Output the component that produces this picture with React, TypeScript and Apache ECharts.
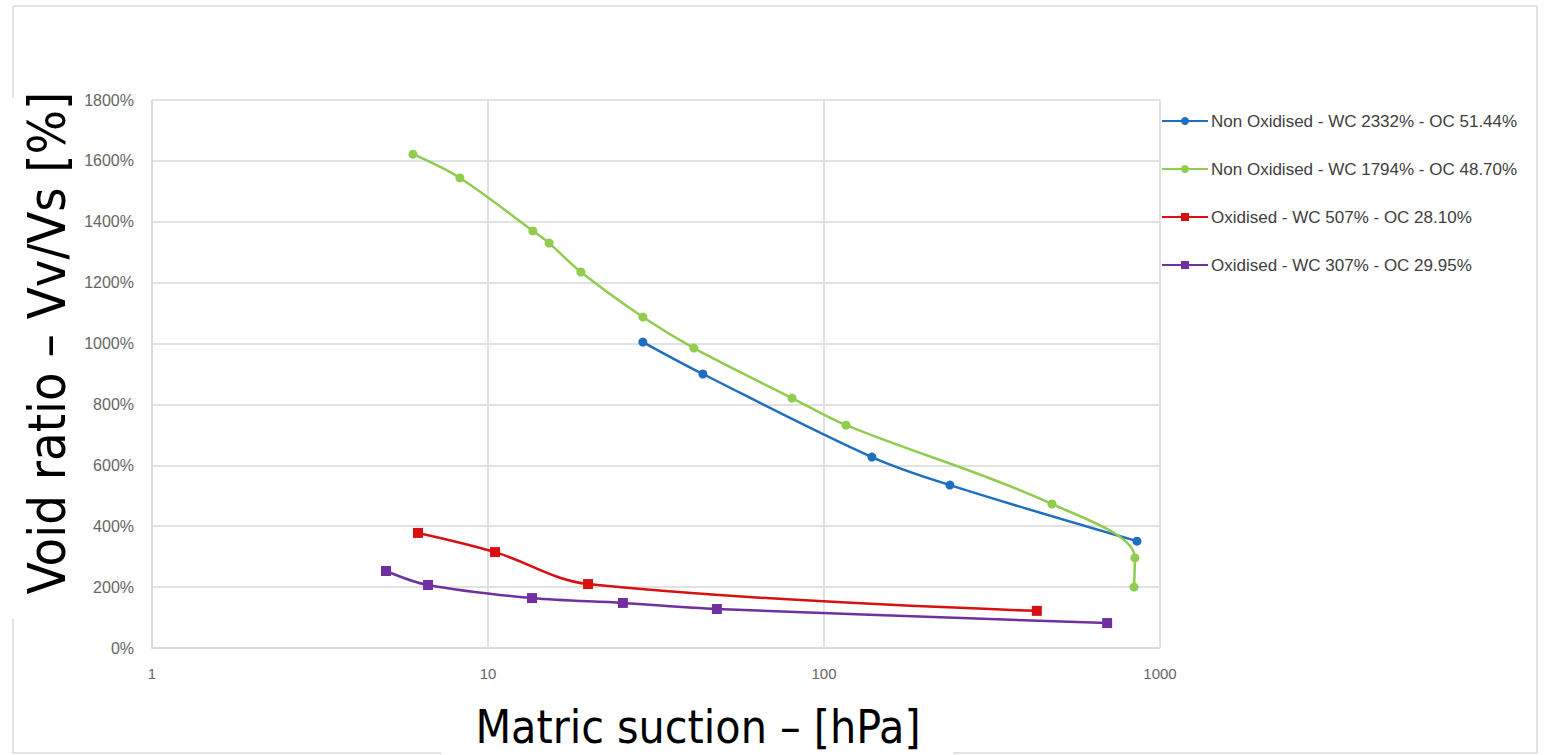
import React, { useEffect, useRef } from "react";
import * as echarts from "echarts";

const xTickLabels = ["1", "10", "100", "1000"];

const blueName = "Non Oxidised - WC 2332% - OC 51.44%";
const blueSuction = [28.9, 43.6, 138.9, 237, 854];
const blueVoid = [1005, 900, 627, 535, 351];

const greenName = "Non Oxidised - WC 1794% - OC 48.70%";
const greenSuction = [5.98, 8.25, 13.6, 15.2, 18.9, 28.9, 41.0, 80.3, 116.3, 477, 842, 837];
const greenVoid = [1622, 1544, 1370, 1330, 1235, 1087, 985, 821, 732, 473, 296, 200];

const redName = "Oxidised - WC 507% - OC 28.10%";
const redSuction = [6.19, 10.49, 19.85, 430];
const redVoid = [378, 315, 210, 122];

const purpleName = "Oxidised - WC 307% - OC 29.95%";
const purpleSuction = [4.97, 6.63, 13.52, 25.2, 48.0, 696];
const purpleVoid = [253, 207, 164, 148, 128, 82];

const zip = (xs: number[], ys: number[]) => xs.map((x, i) => [x, ys[i]]);

export default function App() {
  const ref = useRef<HTMLDivElement>(null);
  useEffect(() => {
    document.body.style.margin = "0";
    if (!ref.current) return;
    const chart = echarts.init(ref.current, null, { renderer: "svg" });
    const border = "#d9d9d9";
    const mk = (name: string, color: string, symbol: string, xs: number[], ys: number[]) => ({
      name,
      type: "line",
      data: zip(xs, ys),
      smooth: 0.35,
      symbol,
      symbolSize: symbol === "rect" ? 10 : 9,
      lineStyle: { color, width: 2.5 },
      itemStyle: { color },
    });
    const line = (x1: number, y1: number, x2: number, y2: number) => ({
      type: "line",
      shape: { x1, y1, x2, y2 },
      style: { stroke: border, lineWidth: 1.5 },
      silent: true,
    });
    chart.setOption({
      animation: false,
      backgroundColor: "#ffffff",
      grid: { left: 152, right: 386, top: 100, bottom: 107 },
      xAxis: {
        type: "log",
        logBase: 10,
        min: 1,
        max: 1000,
        axisLine: { show: true, lineStyle: { color: border, width: 1.5 } },
        axisTick: { show: false },
        minorTick: { show: false },
        splitLine: { show: true, lineStyle: { color: border, width: 1.5 } },
        axisLabel: {
          margin: 18,
          color: "#666666",
          fontSize: 15,
          fontFamily: "Liberation Sans",
          formatter: (v: number) => {
            const idx = Math.round(Math.log10(v));
            return xTickLabels[idx] ?? String(v);
          },
        },
      },
      yAxis: {
        type: "value",
        min: 0,
        max: 1800,
        interval: 200,
        axisLine: { show: true, lineStyle: { color: border, width: 1.5 } },
        axisTick: { show: false },
        splitLine: { show: true, lineStyle: { color: border, width: 1.5 } },
        axisLabel: {
          margin: 18,
          color: "#666666",
          fontSize: 16,
          fontFamily: "Liberation Sans",
          formatter: (v: number) => v + "%",
        },
      },
      legend: {
        orient: "vertical",
        left: 1156,
        top: 106,
        itemWidth: 46,
        itemHeight: 10,
        itemGap: 28,
        textStyle: {
          color: "#404040",
          fontSize: 17,
          fontFamily: "Liberation Sans",
          lineHeight: 20,
          padding: [0, 0, 0, -2],
        },
        data: [blueName, greenName, redName, purpleName],
      },
      series: [
        mk(blueName, "#1f6fc0", "circle", blueSuction, blueVoid),
        mk(greenName, "#8fcc4f", "circle", greenSuction, greenVoid),
        mk(redName, "#d81010", "rect", redSuction, redVoid),
        mk(purpleName, "#7030a0", "rect", purpleSuction, purpleVoid),
      ],
      graphic: [
        line(13, 6, 1537, 6),
        line(1537, 6, 1537, 753),
        line(13, 6, 13, 98),
        line(13, 619, 13, 753),
        line(13, 753, 441, 753),
        line(953, 753, 1537, 753),
        {
          type: "text",
          x: 47,
          y: 343,
          rotation: Math.PI / 2,
          style: {
            text: "Void ratio – Vv/Vs [%]",
            fontSize: 52,
            fontFamily: '"DejaVu Sans Condensed", "DejaVu Sans"',
            fill: "#000000",
            align: "center",
            verticalAlign: "middle",
            textAlign: "center",
            textVerticalAlign: "middle",
          },
        },
        {
          type: "text",
          x: 698,
          y: 727,
          style: {
            text: "Matric suction – [hPa]",
            fontSize: 46,
            fontFamily: '"DejaVu Sans Condensed", "DejaVu Sans"',
            fill: "#000000",
            align: "center",
            verticalAlign: "middle",
            textAlign: "center",
            textVerticalAlign: "middle",
          },
        },
      ],
    });
    return () => chart.dispose();
  }, []);
  return <div ref={ref} style={{ width: 1546, height: 755 }} />;
}
